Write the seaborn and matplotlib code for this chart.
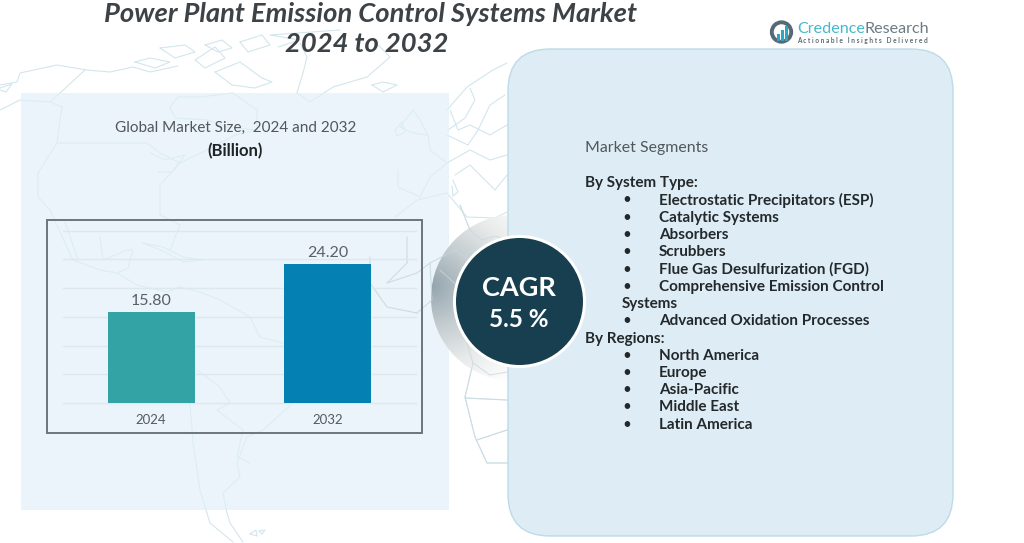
import numpy as np
import pandas as pd
import matplotlib
matplotlib.use('Agg')
import matplotlib.pyplot as plt
from matplotlib.colors import LinearSegmentedColormap
from matplotlib.patches import FancyBboxPatch, Rectangle, Circle
import seaborn as sns

years = ['2024', '2032']
market_size = [15.80, 24.20]
bar_colors = ['#34a3a6', '#0580b2']
grid_ticks = [0, 5, 10, 15, 20, 25, 30]

title_lines = ['Power Plant Emission Control Systems Market', '2024 to 2032']
system_types = ['Electrostatic Precipitators (ESP)', 'Catalytic Systems', 'Absorbers', 'Scrubbers',
                'Flue Gas Desulfurization (FGD)', 'Comprehensive Emission Control']
regions = ['North America', 'Europe', 'Asia-Pacific', 'Middle East', 'Latin America']

sns.set_theme(style='white')
plt.rcParams['font.family'] = ['Lato', 'DejaVu Sans']

fig = plt.figure(figsize=(10.24, 5.43), dpi=100, facecolor='white')

# background layer in pixel coordinates
bg = fig.add_axes([0, 0, 1, 1], zorder=0)

# faint world map outlines, traced roughly by eye
map_color = '#d3e6ed'
map_lines = [
    # alaska and arctic coast
    [(0, 85), (17, 82), (20, 73), (57, 65), (87, 70), (110, 72), (133, 67), (150, 72), (178, 66)],
    [(0, 110), (20, 100), (50, 102), (60, 93), (85, 70)],
    [(0, 88), (12, 84), (6, 92), (0, 90)],
    # west coast and border
    [(50, 102), (62, 107), (60, 120), (57, 143), (38, 173), (38, 197), (50, 210), (60, 232), (73, 260), (100, 270), (117, 273), (137, 285), (167, 292), (180, 287)],
    [(57, 143), (147, 143), (160, 153), (180, 163), (207, 150), (235, 135), (257, 130)],
    [(180, 163), (160, 185), (160, 215), (180, 225), (170, 250)],
    # hudson bay
    [(170, 107), (178, 97), (200, 97), (233, 93), (257, 110), (257, 130), (227, 127), (207, 120), (175, 118), (170, 107)],
    [(150, 153), (165, 160), (185, 155), (172, 172), (158, 172)],
    # arctic islands
    [(135, 62), (150, 58), (170, 62), (155, 68), (135, 62)],
    [(160, 48), (185, 45), (195, 52), (175, 58), (160, 48)],
    [(195, 60), (215, 47), (225, 58), (205, 68), (195, 60)],
    [(215, 72), (240, 62), (262, 78), (272, 82), (255, 88), (232, 85), (215, 72)],
    [(240, 42), (262, 35), (270, 45), (248, 52), (240, 42)],
    [(205, 45), (222, 40), (232, 48), (218, 52), (205, 45)],
    [(278, 47), (300, 40), (270, 35), (340, 30)],
    # greenland
    [(297, 93), (310, 102), (333, 87), (367, 77), (390, 57), (373, 40)],
    [(297, 93), (303, 73), (307, 57), (300, 43)],
    # iceland
    [(372, 85), (383, 82), (397, 85), (383, 92), (372, 85)],
    # uk and ireland
    [(400, 127), (413, 110), (420, 120), (428, 135), (413, 133), (400, 127)],
    [(395, 130), (402, 122), (405, 132), (397, 136), (395, 130)],
    # iberia, europe
    [(398, 170), (398, 187), (420, 197), (430, 177), (447, 163), (430, 150), (428, 135)],
    [(447, 110), (467, 87), (493, 70), (507, 63)],
    [(450, 110), (458, 130), (470, 125), (490, 135), (507, 125)],
    [(447, 135), (468, 145), (478, 130), (490, 105), (505, 95)],
    [(447, 163), (470, 150), (490, 160), (507, 155)],
    [(448, 130), (465, 118), (475, 100), (470, 88)],
    [(455, 175), (470, 165), (485, 180), (495, 190), (507, 175)],
    [(453, 180), (458, 192), (453, 196), (452, 186)],
    # north and west africa
    [(395, 217), (417, 200), (447, 193), (467, 217), (495, 218), (507, 212)],
    [(370, 257), (370, 283), (387, 307), (417, 313)],
    [(407, 237), (407, 263), (387, 283), (417, 273), (430, 263), (455, 250), (475, 265)],
    [(430, 263), (432, 300), (417, 313)],
    [(460, 205), (470, 230), (482, 240), (495, 236), (507, 240)],
    [(440, 270), (462, 290), (458, 325), (470, 345)],
    [(467, 343), (473, 363), (465, 397), (475, 437), (487, 463), (507, 463)],
    [(465, 398), (507, 400)],
    [(477, 440), (507, 430)],
    [(473, 363), (490, 375), (507, 372)],
    # gulf and caribbean
    [(100, 237), (103, 260), (127, 250), (133, 250), (128, 268), (117, 273)],
    [(143, 243), (163, 247), (183, 257), (203, 260), (183, 262), (165, 252), (143, 243)],
    [(65, 222), (78, 260)],
    # south america
    [(180, 287), (200, 292), (220, 300), (250, 317), (260, 337), (283, 343)],
    [(197, 370), (220, 387), (230, 403), (217, 410), (243, 430), (237, 457), (250, 463)],
    [(293, 403), (263, 430), (247, 437), (237, 463), (240, 477), (223, 493), (227, 513), (230, 523), (243, 542)],
    [(190, 403), (193, 443), (200, 490), (210, 523), (233, 542)],
    [(250, 534), (256, 530), (257, 536), (250, 534)],
    [(259, 531), (265, 530), (262, 534), (259, 531)],
]
for line in map_lines:
    xs, ys = zip(*line)
    bg.plot(xs, ys, color=map_color, lw=0.8, zorder=1, solid_joinstyle='round')

# left panel, semi transparent so the map shows through
bg.add_patch(Rectangle((21, 93), 428, 417, facecolor='#e1f0f8', alpha=0.68, edgecolor='none', zorder=2))

# grey crescent behind the CAGR circle
yy, xx = np.mgrid[205:395, 425:525]
shade = np.sqrt(((xx - 431) / 90.0) ** 2 + ((yy - 285) / 85.0) ** 2)
crescent_cmap = LinearSegmentedColormap.from_list('crescent', ['#94a5ad', '#c3ccd0', '#e9ebeb', '#ffffff'])
crescent = bg.imshow(shade, extent=(425, 525, 395, 205), cmap=crescent_cmap, vmin=0, vmax=1.4,
                     aspect='auto', zorder=3, interpolation='bilinear')
crescent.set_clip_path(Circle((514, 298), 83, transform=bg.transData))
for line in map_lines[29:38]:
    xs, ys = zip(*line)
    bg.plot(xs, ys, color='#c9d8de', lw=0.7, alpha=0.8, zorder=3.5)

bg.set_xlim(0, 1024)
bg.set_ylim(543, 0)
bg.axis('off')

# right panel
bg.add_patch(FancyBboxPatch((508, 49), 445, 487, boxstyle='round,pad=0,rounding_size=42',
                            facecolor='#deedf5', edgecolor='#bcdbe8', linewidth=1.0, zorder=4))

# CAGR badge
bg.add_patch(Circle((519.5, 301.5), 66.5, facecolor='white', edgecolor='none', zorder=5))
bg.add_patch(Circle((519.5, 301.5), 63.5, facecolor='#173f50', edgecolor='none', zorder=6))
bg.text(519, 288.5, 'CAGR', color='white', fontsize=19.5, fontweight='bold', ha='center', va='center', zorder=7)
bg.text(519, 319.5, '5.5 %', color='white', fontsize=17.5, fontweight='bold', ha='center', va='center', zorder=7)

# bar chart frame
bg.add_patch(Rectangle((47, 220), 375, 213, facecolor='none', edgecolor='#6e7578', linewidth=1.4, zorder=5))

# titles
title_opts = dict(color='#3c4246', fontsize=19.7, fontweight='bold', style='italic', ha='center', va='center', zorder=7)
bg.text(371, 14, title_lines[0], **title_opts)
bg.text(367, 44, title_lines[1], **title_opts)
bg.text(236, 128, 'Global Market Size,  2024 and 2032', color='#51575a', fontsize=11, ha='center', va='center', zorder=7)
bg.text(235, 151, '(Billion)', color='#1f2426', fontsize=12, fontweight='bold', ha='center', va='center', zorder=7)

# segment list
seg_color = '#23282b'
seg_opts = dict(color=seg_color, fontsize=11, fontweight='bold', va='center', zorder=7)
bg.text(585, 148, 'Market Segments', color='#51575a', fontsize=11.4, va='center', zorder=7)
bg.text(585, 182.5, 'By System Type:', **seg_opts)
row_y = 200.5
for name in system_types:
    bg.text(627, row_y, '•', color=seg_color, fontsize=11, ha='center', va='center', zorder=7)
    bg.text(659, row_y, name, **seg_opts)
    row_y += 17.25
bg.text(622, row_y, 'Systems', **seg_opts)
row_y += 17.25
bg.text(627, row_y, '•', color=seg_color, fontsize=11, ha='center', va='center', zorder=7)
bg.text(659, row_y, 'Advanced Oxidation Processes', **seg_opts)
bg.text(585, 338.5, 'By Regions:', **seg_opts)
row_y = 355.5
for name in regions:
    bg.text(627, row_y, '•', color=seg_color, fontsize=11, ha='center', va='center', zorder=7)
    bg.text(659, row_y, name, **seg_opts)
    row_y += 17.3

# logo
bg.add_patch(Circle((781.5, 32), 9.7, facecolor='none', edgecolor='#566a76', linewidth=2.8, zorder=7))
for bx, bh in zip([776.5, 780.5, 784.5], [7, 11, 15]):
    bg.add_patch(Rectangle((bx, 41 - bh), 3, bh, facecolor='#2fa5c4', edgecolor='none', zorder=8))
bg.text(797, 29, 'Credence', color='#45b8cc', fontsize=11.6, va='center', zorder=7)
bg.text(865, 29, 'Research', color='#6d7b85', fontsize=11.6, va='center', zorder=7)
bg.text(797, 40, 'A c t i o n a b l e   I n s i g h t s   D e l i v e r e d', color='#5c6a72', fontsize=4.7, fontweight='bold', va='center', zorder=7)

# bar chart
df = pd.DataFrame({'Year': years, 'Size': market_size})
ax = fig.add_axes([63 / 1024, (543 - 403) / 543, 353 / 1024, 172.5 / 543], zorder=1)
ax.patch.set_alpha(0)
sns.barplot(data=df, x='Year', y='Size', hue='Year', palette=bar_colors, width=0.495, saturation=1,
            linewidth=0, legend=False, ax=ax, zorder=3)
ax.set_ylim(0, 30)
ax.set_xlim(-0.5, 1.5)
ax.set_yticks(grid_ticks)
ax.set_yticklabels([])
ax.yaxis.grid(True, color='#dbe8ec', linewidth=1.0, clip_on=False)
ax.set_axisbelow(True)
ax.set_xlabel('')
ax.set_ylabel('')
ax.tick_params(axis='x', length=0, pad=8, labelsize=9.5, labelcolor='#555b5f')
ax.tick_params(axis='y', length=0)
sns.despine(ax=ax, left=True, bottom=True)
for container in ax.containers:
    ax.bar_label(container, fmt='%.2f', padding=3, fontsize=11.5, color='#5a6064')

fig.savefig('out.png', dpi=100)
